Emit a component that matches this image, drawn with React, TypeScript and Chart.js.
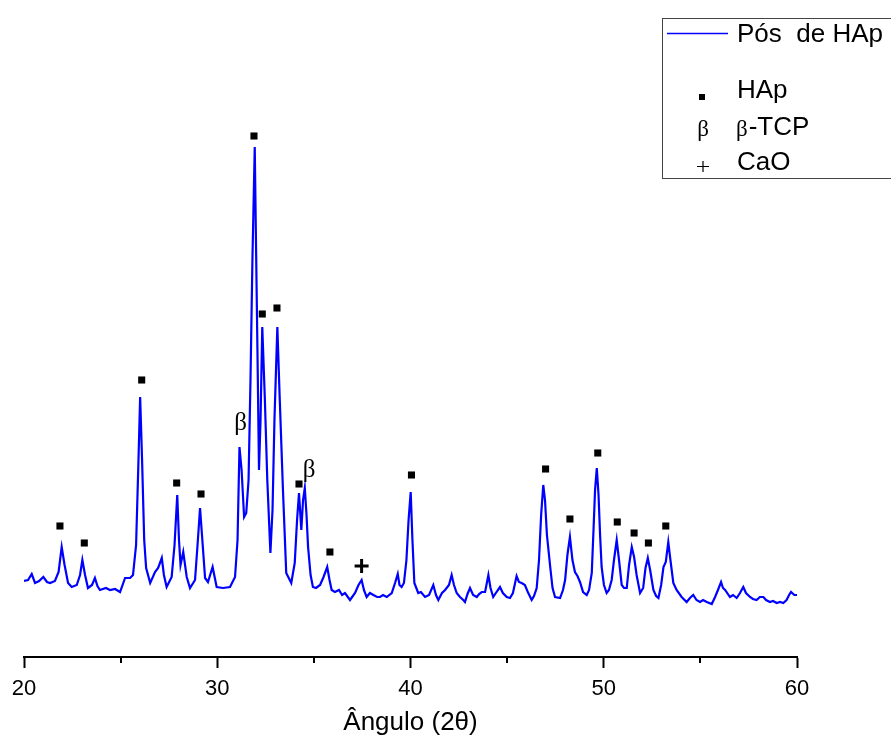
import React, { useEffect, useRef } from 'react';
import { Chart, registerables } from 'chart.js';

Chart.register(...registerables);

const angle = [
  20.00, 20.21, 20.40, 20.57, 20.78, 21.00, 21.19, 21.35, 21.60, 21.79,
  21.95, 22.10, 22.28, 22.47, 22.73, 22.90, 23.02, 23.16, 23.31, 23.52,
  23.67, 23.80, 23.93, 24.24, 24.45, 24.71, 24.97, 25.23, 25.49, 25.64,
  25.80, 25.91, 26.01, 26.11, 26.22, 26.32, 26.53, 26.78, 26.94, 27.13,
  27.24, 27.38, 27.64, 27.79, 27.93, 28.02, 28.10, 28.24, 28.42, 28.59,
  28.85, 28.98, 29.11, 29.21, 29.37, 29.52, 29.76, 29.97, 30.30, 30.66,
  30.92, 31.05, 31.15, 31.26, 31.39, 31.50, 31.62, 31.72, 31.82, 31.94,
  32.01, 32.08, 32.16, 32.24, 32.33, 32.46, 32.59, 32.75, 32.86, 32.96,
  33.11, 33.23, 33.40, 33.57, 33.83, 34.01, 34.13, 34.23, 34.35, 34.44,
  34.53, 34.62, 34.70, 34.83, 34.95, 35.11, 35.32, 35.50, 35.69, 35.81,
  35.92, 36.09, 36.30, 36.46, 36.61, 36.87, 37.13, 37.31, 37.47, 37.59,
  37.73, 37.90, 38.08, 38.27, 38.42, 38.58, 38.77, 39.03, 39.20, 39.34,
  39.43, 39.54, 39.66, 39.79, 39.90, 40.01, 40.10, 40.20, 40.40, 40.54,
  40.75, 40.96, 41.18, 41.32, 41.44, 41.63, 41.79, 41.99, 42.13, 42.25,
  42.39, 42.56, 42.73, 42.82, 42.95, 43.08, 43.24, 43.43, 43.55, 43.69,
  43.86, 44.03, 44.14, 44.28, 44.45, 44.63, 44.78, 44.98, 45.15, 45.30,
  45.49, 45.61, 45.75, 45.92, 46.07, 46.27, 46.39, 46.53, 46.65, 46.76,
  46.87, 46.96, 47.06, 47.23, 47.35, 47.48, 47.74, 47.89, 48.00, 48.12,
  48.25, 48.38, 48.51, 48.64, 48.77, 48.93, 49.12, 49.24, 49.38, 49.47,
  49.55, 49.64, 49.73, 49.81, 49.89, 50.01, 50.15, 50.27, 50.41, 50.53,
  50.67, 50.79, 50.93, 51.05, 51.19, 51.31, 51.45, 51.57, 51.70, 51.88,
  52.04, 52.16, 52.28, 52.40, 52.57, 52.71, 52.83, 52.97, 53.09, 53.21,
  53.34, 53.45, 53.60, 53.77, 54.03, 54.29, 54.46, 54.63, 54.80, 54.98,
  55.14, 55.33, 55.59, 55.76, 55.91, 56.07, 56.17, 56.28, 56.53, 56.69,
  56.88, 57.05, 57.22, 57.36, 57.57, 57.72, 57.91, 58.08, 58.26, 58.40,
  58.60, 58.76, 58.95, 59.12, 59.29, 59.46, 59.59, 59.69, 59.86, 60.00,
];
const intensity = [
  76, 77, 83, 74, 76, 80, 75, 74, 76, 85,
  110, 92, 74, 70, 72, 82, 97, 82, 69, 72,
  79, 71, 67, 69, 67, 68, 65, 79, 79, 82,
  112, 187, 260, 197, 117, 89, 74, 85, 89, 99,
  82, 70, 80, 112, 162, 117, 92, 105, 80, 69,
  77, 112, 149, 122, 79, 75, 90, 70, 69, 70,
  80, 117, 210, 187, 140, 144, 177, 277, 397, 510,
  407, 307, 187, 237, 330, 260, 177, 104, 147, 237,
  330, 260, 167, 84, 74, 94, 137, 164, 127, 157,
  169, 142, 110, 82, 70, 69, 72, 80, 90, 77,
  67, 65, 67, 62, 64, 57, 64, 72, 77, 67,
  60, 64, 62, 60, 60, 62, 60, 64, 74, 83,
  72, 70, 74, 97, 137, 165, 117, 74, 64, 65,
  60, 62, 72, 62, 57, 64, 67, 72, 82, 72,
  64, 60, 57, 55, 63, 69, 62, 60, 63, 65,
  65, 82, 69, 60, 65, 70, 64, 60, 59, 64,
  81, 75, 74, 72, 65, 57, 61, 69, 97, 142,
  172, 157, 122, 90, 69, 60, 59, 67, 77, 102,
  120, 97, 85, 81, 75, 65, 62, 67, 84, 127,
  167, 189, 162, 122, 90, 72, 64, 67, 77, 97,
  117, 97, 72, 69, 69, 92, 110, 100, 82, 64,
  69, 89, 99, 87, 67, 61, 59, 72, 90, 95,
  115, 97, 74, 67, 60, 55, 59, 62, 57, 55,
  57, 55, 53, 60, 67, 75, 69, 67, 60, 62,
  59, 64, 70, 64, 60, 58, 57, 60, 60, 57,
  55, 56, 54, 55, 54, 57, 62, 65, 62, 62,
];

// phase markers (angle, height of marker)
const hapAngle = [21.86, 23.12, 26.09, 27.90, 29.16, 31.90, 32.33, 33.09, 34.23, 35.83, 40.05, 46.99, 48.25, 49.69, 50.70, 51.57, 52.31, 53.21];
const hapHeight = [131, 114, 277, 174, 163, 521, 343, 349, 173, 105, 182, 188, 138, 204, 135, 124, 114, 131];
const betaAngle = [31.21, 34.75];
const betaHeight = [234, 187];
const caoAngle = [37.47];
const caoHeight = [91];

const majorTicks = [20, 30, 40, 50, 60];
const minorTicks = [25, 35, 45, 55];

const seriesLabel = 'Pós  de HAp';
const axisTitle = 'Ângulo (2θ)';
const hapLabel = 'HAp';
const betaLabel = '-TCP';
const caoLabel = 'CaO';
const betaSymbol = 'β';

const SANS = '"Liberation Sans", Arial, sans-serif';
const SERIF = '"Liberation Serif", "DejaVu Serif", serif';

const overlayPlugin = {
  id: 'overlay',
  afterDatasetsDraw(chart: any) {
    const { ctx, scales } = chart;
    const x = scales.x;
    const y = scales.y;
    ctx.save();
    // β labels on peaks
    ctx.fillStyle = '#000';
    ctx.font = `25px ${SERIF}`;
    ctx.textAlign = 'center';
    ctx.textBaseline = 'middle';
    betaAngle.forEach((a, i) => {
      ctx.fillText(betaSymbol, x.getPixelForValue(a), y.getPixelForValue(betaHeight[i]));
    });
    // minor ticks
    ctx.strokeStyle = '#000';
    ctx.lineWidth = 2;
    const yb = chart.chartArea.bottom;
    minorTicks.forEach((t) => {
      const px = Math.round(x.getPixelForValue(t));
      ctx.beginPath();
      ctx.moveTo(px, yb);
      ctx.lineTo(px, yb + 6);
      ctx.stroke();
    });
    ctx.restore();
  },
  afterDraw(chart: any) {
    const { ctx } = chart;
    ctx.save();
    // legend box
    ctx.strokeStyle = '#444';
    ctx.lineWidth = 1;
    ctx.strokeRect(662.5, 18.5, 260, 160);
    // series line sample
    ctx.strokeStyle = '#0000ff';
    ctx.lineWidth = 1.6;
    ctx.beginPath();
    ctx.moveTo(667, 33.5);
    ctx.lineTo(728, 33.5);
    ctx.stroke();
    ctx.fillStyle = '#000';
    ctx.textAlign = 'left';
    ctx.textBaseline = 'alphabetic';
    ctx.font = `26px ${SANS}`;
    ctx.fillText(seriesLabel, 737, 42);
    // HAp
    ctx.fillRect(699, 94, 6, 6);
    ctx.fillText(hapLabel, 737, 98);
    // β-TCP
    ctx.font = `23px ${SERIF}`;
    ctx.textAlign = 'center';
    ctx.fillText(betaSymbol, 703, 136);
    ctx.textAlign = 'left';
    ctx.fillText(betaSymbol, 736, 136);
    const bw = ctx.measureText(betaSymbol).width;
    ctx.font = `26px ${SANS}`;
    ctx.fillText(betaLabel, 736 + bw + 1, 135);
    // CaO
    ctx.lineWidth = 1.2;
    ctx.strokeStyle = '#000';
    ctx.beginPath();
    ctx.moveTo(697, 166.5);
    ctx.lineTo(709, 166.5);
    ctx.moveTo(703, 161);
    ctx.lineTo(703, 172);
    ctx.stroke();
    ctx.fillText(caoLabel, 737, 170);
    ctx.restore();
  },
};

export default function App() {
  const canvasRef = useRef<HTMLCanvasElement | null>(null);

  useEffect(() => {
    document.body.style.margin = '0';
    const canvas = canvasRef.current;
    if (!canvas) return;
    const chart = new Chart(canvas, {
      type: 'line',
      data: {
        datasets: [
          {
            label: seriesLabel,
            data: angle.map((a, i) => ({ x: a, y: intensity[i] })),
            borderColor: '#0000ff',
            borderWidth: 2.2,
            pointRadius: 0,
            tension: 0,
            fill: false,
          },
          {
            label: hapLabel,
            data: hapAngle.map((a, i) => ({ x: a, y: hapHeight[i] })),
            showLine: false,
            pointStyle: 'rect',
            pointRadius: 5,
            borderWidth: 0,
            backgroundColor: '#000',
            borderColor: '#000',
          },
          {
            label: caoLabel,
            data: caoAngle.map((a, i) => ({ x: a, y: caoHeight[i] })),
            showLine: false,
            pointStyle: 'cross',
            pointRadius: 7,
            borderWidth: 3,
            borderColor: '#000',
            backgroundColor: '#000',
          },
        ],
      },
      options: {
        animation: false,
        responsive: false,
        events: [],
        layout: { autoPadding: false, padding: { left: 24, right: 94, top: 0, bottom: 0 } },
        plugins: {
          legend: { display: false },
          tooltip: { enabled: false },
        },
        scales: {
          x: {
            type: 'linear',
            min: 20,
            max: 60,
            afterBuildTicks: (scale: any) => {
              scale.ticks = majorTicks.map((v) => ({ value: v }));
            },
            afterFit: (scale: any) => {
              scale.height = 86;
            },
            ticks: {
              color: '#000',
              font: { size: 22, family: SANS },
              padding: 8,
              maxRotation: 0,
              autoSkip: false,
            },
            grid: {
              display: true,
              drawOnChartArea: false,
              drawTicks: true,
              tickLength: 11,
              tickColor: '#000',
              tickWidth: 2,
            },
            border: { display: true, color: '#000', width: 2 },
            title: {
              display: true,
              text: axisTitle,
              color: '#000',
              font: { size: 26, family: SANS },
              padding: { top: 0, bottom: 5 },
            },
          },
          y: {
            display: false,
            min: 0,
            max: 657,
          },
        },
      },
      plugins: [overlayPlugin],
    });
    return () => chart.destroy();
  }, []);

  return (
    <div style={{ width: 891, height: 743, background: '#fff' }}>
      <canvas ref={canvasRef} width={891} height={743} />
    </div>
  );
}
